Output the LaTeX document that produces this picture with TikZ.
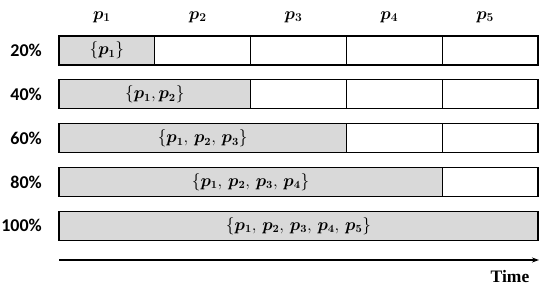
\documentclass[tikz,border=0pt]{standalone}
\usepackage{bm}
\usepackage{fontspec}
\newfontfamily\lblfont{Carlito}
\newfontfamily\timefont{Liberation Serif}
\usetikzlibrary{arrows.meta}
\definecolor{fillgray}{HTML}{D9D9D9}
\tikzset{
  cellbox/.style={draw=black, line width=1.2pt, anchor=north west, minimum height=29pt, inner sep=0pt, outer sep=0pt},
  filledbox/.style={cellbox, fill=fillgray, font=\fontsize{16}{18}\selectfont},
  rowlabel/.style={font=\lblfont\bfseries\fontsize{18}{20}\selectfont, inner sep=0pt, anchor=east},
  header/.style={font=\fontsize{18}{20}\selectfont, inner sep=0pt},
  timelabel/.style={font=\timefont\bfseries\fontsize{17.5}{19}\selectfont, inner sep=0pt},
  timeline/.style={line width=1.2pt, -{Stealth[length=7pt,width=5pt]}}
}
\begin{document}
\begin{tikzpicture}[x=1pt,y=-1pt]
\useasboundingbox (0,0) rectangle (550,290);
\def\cw{95.8}
% headers
\foreach \j in {1,...,5}{
  \node[header] (h\j) at ({59+(\j-0.5)*\cw-5},17) {$\bm{p_{\j}}$};
}
% rows
\foreach \i/\lab/\txt in {1/20\%/{\{\bm{p_1}\}},
                          2/40\%/{\{\bm{p_1},\bm{p_2}\}},
                          3/60\%/{\{\bm{p_1},\,\bm{p_2},\,\bm{p_3}\}},
                          4/80\%/{\{\bm{p_1},\,\bm{p_2},\,\bm{p_3},\,\bm{p_4}\}},
                          5/100\%/{\{\bm{p_1},\,\bm{p_2},\,\bm{p_3},\,\bm{p_4},\,\bm{p_5}\}}}{
  \pgfmathsetmacro{\ytop}{36+(\i-1)*43.8}
  \node[filledbox, minimum width={\i*\cw pt}] (r\i f) at (59,\ytop) {$\txt$};
  \node[rowlabel] (l\i) at (42,{\ytop+14.5}) {\lab};
  \ifnum\i<5
    \foreach \j in {\i,...,4}{
      \node[cellbox, minimum width=\cw pt] (r\i c\j) at ({59+\j*\cw},\ytop) {};
    }
  \fi
}
% time axis
\coordinate (t0) at (59,260);
\coordinate (t1) at (539,260);
\draw[timeline] (t0) -- (t1);
\node[timelabel] (time) at (510,277) {Time};
\end{tikzpicture}
\end{document}
